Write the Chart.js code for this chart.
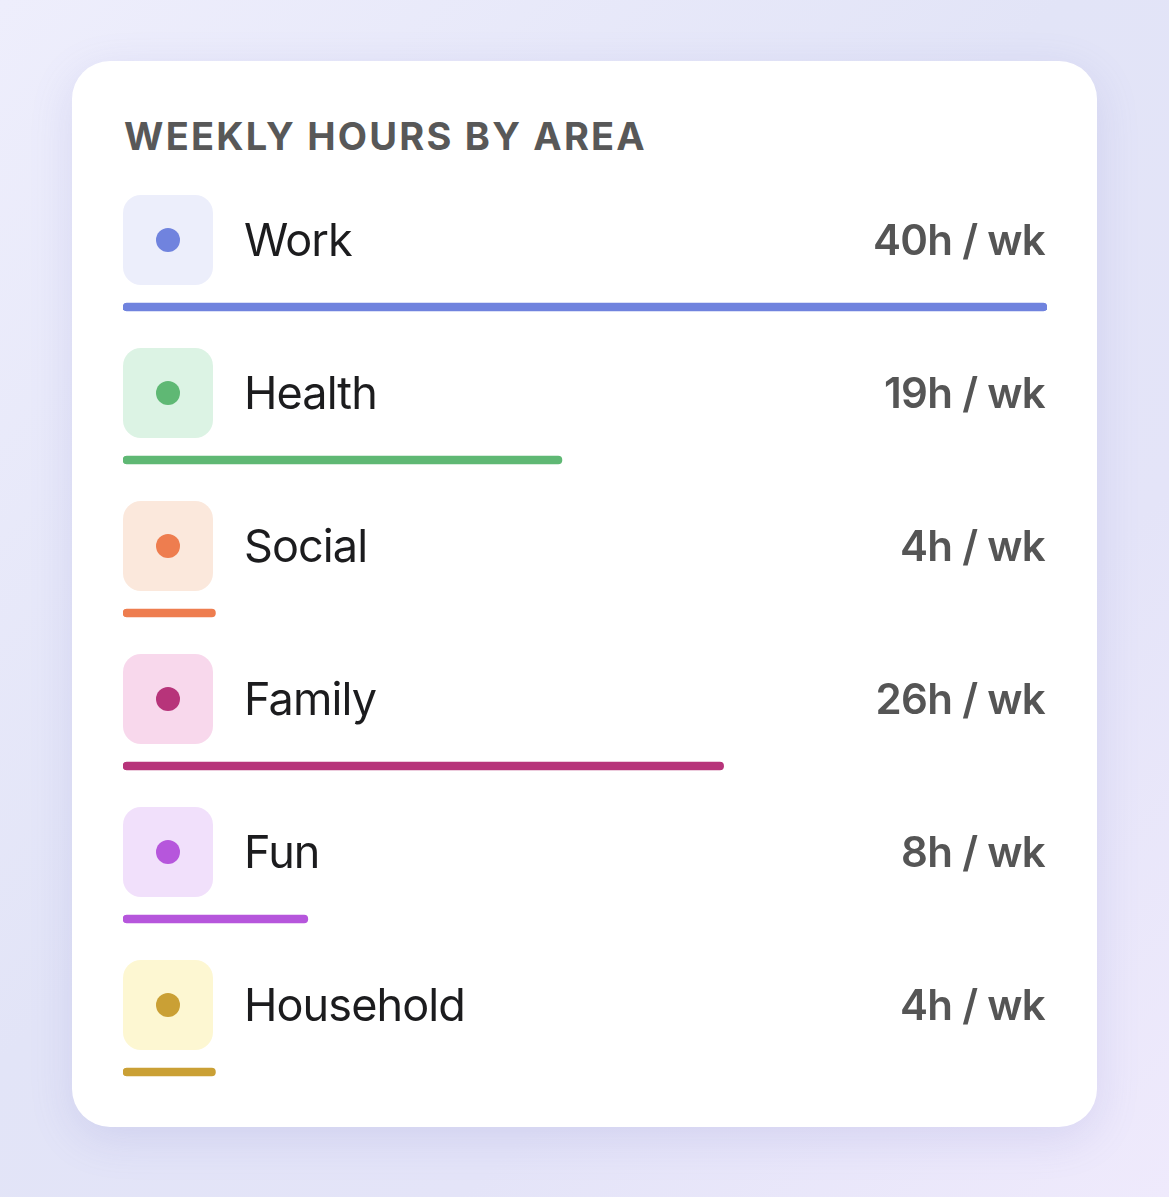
<!DOCTYPE html>
<html>
<head>
<meta charset="utf-8">
<script src="https://cdn.jsdelivr.net/npm/chart.js@4"></script>
<style>
  html, body { margin: 0; padding: 0; }
  body {
    width: 1169px;
    height: 1197px;
    overflow: hidden;
    background: linear-gradient(135deg, #eeeefc 0%, #e2e4f7 45%, #e4e4f8 70%, #efeafc 100%);
    font-family: Inter, "Noto Sans", sans-serif;
    position: relative;
  }
  .card {
    position: absolute;
    left: 72px;
    top: 61px;
    width: 1025px;
    height: 1066px;
    background: #fff;
    border-radius: 38px;
    box-shadow: 0 12px 44px rgba(110, 115, 200, 0.16);
  }
  .title {
    position: absolute;
    left: 52px;
    top: 56px;
    font-size: 38px;
    line-height: 38px;
    font-weight: 700;
    letter-spacing: 2.2px;
    color: #585858;
    white-space: nowrap;
  }
  .chart-box {
    position: absolute;
    left: 0;
    top: 0;
    width: 1025px;
    height: 1100px;
  }
</style>
</head>
<body>
<div class="card">
  <div class="title">WEEKLY HOURS BY AREA</div>
  <div class="chart-box"><canvas id="hoursChart"></canvas></div>
</div>
<script>
const areas = ["Work", "Health", "Social", "Family", "Fun", "Household"];
const hours = [40, 19, 4, 26, 8, 4];
const maxHours = 40;

const barColors = ["#7083de", "#5fb874", "#ee7d4f", "#b7347a", "#b656dc", "#caa035"];
const iconColors = ["#eceefb", "#dcf3e4", "#fbe8dc", "#f8d8ec", "#f1e0fb", "#fdf7d2"];

// icons, labels and "Nh / wk" texts sit above each bar
const rowLabels = {
    id: "rowLabels",
    afterDatasetsDraw(chart) {
        const ctx = chart.ctx;
        const meta = chart.getDatasetMeta(0);
        const left = chart.chartArea.left;
        const right = chart.chartArea.right;

        meta.data.forEach((bar, i) => {
            const cy = bar.y - 67;

            ctx.save();
            ctx.fillStyle = iconColors[i];
            ctx.beginPath();
            ctx.roundRect(left, cy - 45, 90, 90, 18);
            ctx.fill();

            ctx.fillStyle = barColors[i];
            ctx.beginPath();
            ctx.arc(left + 45, cy, 12, 0, Math.PI * 2);
            ctx.fill();

            ctx.textBaseline = "alphabetic";
            ctx.textAlign = "left";
            ctx.fillStyle = "#1c1c1e";
            ctx.font = "400 45px Inter, 'Noto Sans', sans-serif";
            ctx.letterSpacing = "-0.9px";
            ctx.fillText(areas[i], left + 121, cy + 16);

            ctx.textAlign = "right";
            ctx.fillStyle = "#555555";
            ctx.font = "600 42px Inter, 'Noto Sans', sans-serif";
            ctx.letterSpacing = "-0.7px";
            ctx.fillText(`${hours[i]}h / wk`, right - 2, cy + 15);
            ctx.restore();
        });
    },
};

new Chart(document.getElementById("hoursChart").getContext("2d"), {
    type: "bar",
    data: {
        labels: areas,
        datasets: [
            {
                data: hours,
                backgroundColor: barColors,
                barThickness: 8,
                borderRadius: 4,
                borderSkipped: false,
            },
        ],
    },
    options: {
        indexAxis: "y",
        responsive: true,
        maintainAspectRatio: false,
        animation: false,
        layout: {
            padding: { left: 51, right: 50, top: 169.5, bottom: 12.5 },
        },
        scales: {
            x: { min: 0, max: maxHours, display: false },
            y: { display: false },
        },
        plugins: {
            legend: { display: false },
            tooltip: { enabled: false },
        },
    },
    plugins: [rowLabels],
});
</script>
</body>
</html>
